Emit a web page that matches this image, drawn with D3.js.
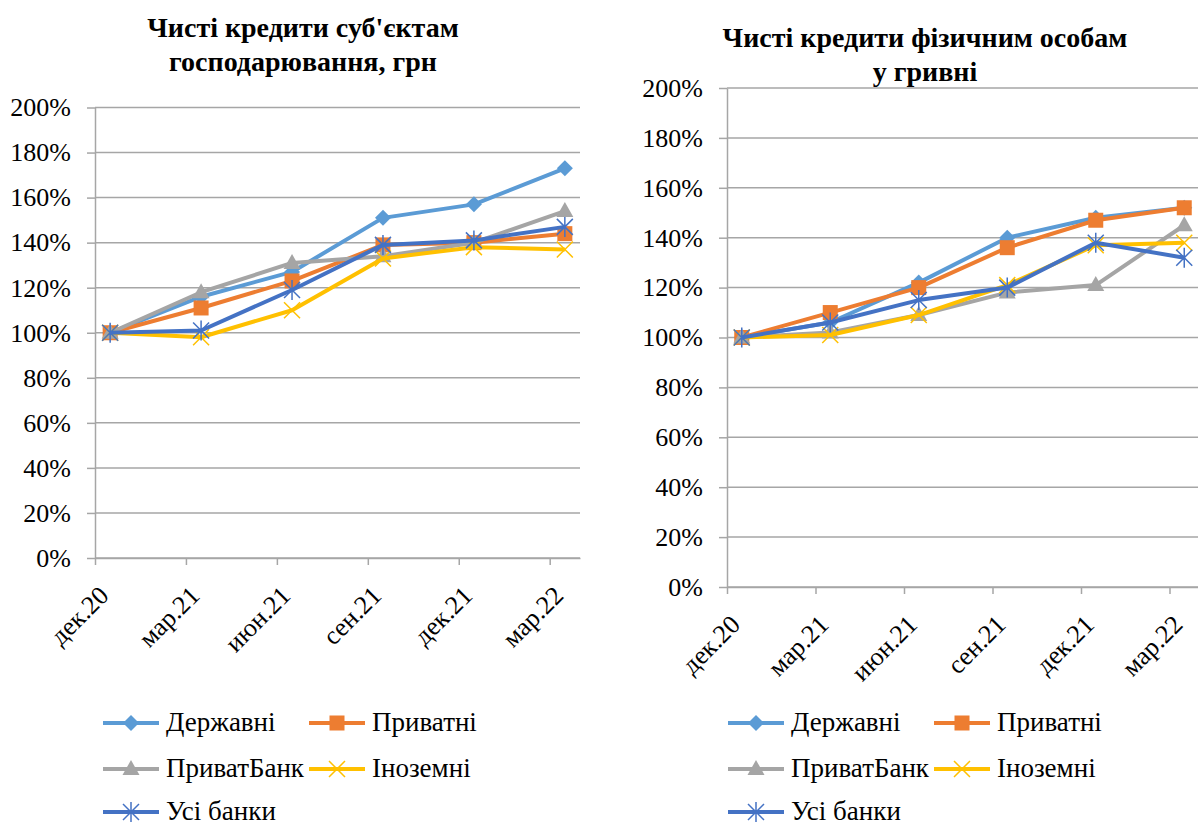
<!DOCTYPE html>
<meta charset="utf-8">
<script src="https://d3js.org/d3.v7.min.js"></script>
<body style="margin:0">
<script>

// Categories (quarter ends) and series names
const categories = ["дек.20", "мар.21", "июн.21", "сен.21", "дек.21", "мар.22"];
const seriesNames = ["Державні", "Приватні", "ПриватБанк", "Іноземні", "Усі банки"];
const yTicks = [0, 20, 40, 60, 80, 100, 120, 140, 160, 180, 200];

// Left chart: net loans to businesses, UAH (%, дек.20 = 100)
const bizDerzhavni   = [100, 116, 127, 151, 157, 173];
const bizPryvatni    = [100, 111, 123, 139, 140, 144];
const bizPrivatBank  = [100, 118, 131, 134, 140, 154];
const bizInozemni    = [100, 98, 110, 133, 138, 137];
const bizUsi         = [100, 101, 119, 139, 141, 147];

// Right chart: net loans to households, UAH
const hhDerzhavni   = [100, 106, 122, 140, 148, 152];
const hhPryvatni    = [100, 110, 120, 136, 147, 152];
const hhPrivatBank  = [100, 102, 109, 118, 121, 145];
const hhInozemni    = [100, 101, 109, 121, 137, 138];
const hhUsi         = [100, 106, 115, 120, 138, 132];

const colors = ["#5B9BD5", "#ED7D31", "#A5A5A5", "#FFC000", "#4472C4"];
const markers = ["diamond", "square", "triangle", "x", "star"];
const FONT = "'Liberation Serif', Tinos, serif";

const svg = d3.select("body")
    .append("svg")
    .attr("width", 1198)
    .attr("height", 825);

// draw one marker of given type
function drawMarker(g, type, color) {
    if (type === "diamond") {
        g.append("path").attr("d", "M0,-8L8,0L0,8L-8,0Z").attr("fill", color);
    } else if (type === "square") {
        g.append("rect").attr("x", -7.5).attr("y", -7.5).attr("width", 15).attr("height", 15).attr("fill", color);
    } else if (type === "triangle") {
        g.append("path").attr("d", "M0,-9L8.5,6L-8.5,6Z").attr("fill", color);
    } else if (type === "x") {
        g.append("path").attr("d", "M-8,-8L8,8M-8,8L8,-8")
            .attr("stroke", color).attr("stroke-width", 1.5).attr("fill", "none");
    } else {
        g.append("path").attr("d", "M-8,-8L8,8M-8,8L8,-8M0,-10L0,10")
            .attr("stroke", color).attr("stroke-width", 1.5).attr("fill", "none");
    }
}

function txt(sel, size) {
    return sel.style("font-family", FONT).style("font-size", size + "px");
}

function drawChart(cfg) {
    const g = svg.append("g");

    // monthly date axis: 16 months, ticks every quarter, points mid-month
    const x = d3.scaleLinear().domain([0, categories.length * 3 - 2]).range([cfg.x0, cfg.x1]);
    const y = d3.scaleLinear().domain([0, 200]).range([cfg.y0, cfg.y1]);
    const px = i => x(i * 3 + 0.5);

    // gridlines
    g.append("g")
        .selectAll("line")
        .data(yTicks)
        .join("line")
        .attr("x1", cfg.x0).attr("x2", cfg.x1)
        .attr("y1", d => y(d)).attr("y2", d => y(d))
        .attr("stroke", "#A6A6A6")
        .attr("stroke-width", 1.5);

    // y axis
    const yAxis = g.append("g")
        .attr("transform", `translate(${cfg.x0},0)`)
        .call(d3.axisLeft(y).tickValues(yTicks).tickFormat(d => d + "%").tickSize(8).tickSizeOuter(0).tickPadding(16));
    txt(yAxis.selectAll("text"), 26).attr("fill", "#000");

    // x axis
    g.append("g")
        .attr("transform", `translate(0,${cfg.y0})`)
        .call(d3.axisBottom(x).tickValues(categories.map((c, i) => i * 3)).tickFormat("").tickSize(7).tickSizeOuter(0));
    g.selectAll(".domain, .tick line").attr("stroke", "#A6A6A6").attr("stroke-width", 1.5);

    // rotated category labels
    txt(g.append("g")
        .selectAll("text")
        .data(categories)
        .join("text")
        .attr("transform", (d, i) => `translate(${px(i) - 6},${cfg.y0 + 33}) rotate(-45)`)
        .attr("text-anchor", "end")
        .attr("dominant-baseline", "central"), 26)
        .text(d => d);

    // series lines + markers
    const line = d3.line().x((d, i) => px(i)).y(d => y(d));
    cfg.series.forEach((vals, s) => {
        g.append("path")
            .datum(vals)
            .attr("d", line)
            .attr("fill", "none")
            .attr("stroke", colors[s])
            .attr("stroke-width", 4)
            .attr("stroke-linejoin", "round");
        vals.forEach((v, i) => {
            const m = g.append("g").attr("transform", `translate(${px(i)},${y(v)})`);
            drawMarker(m, markers[s], colors[s]);
        });
    });

    // title
    txt(g.append("g")
        .selectAll("text")
        .data(cfg.title)
        .join("text")
        .attr("x", cfg.titleX)
        .attr("y", (d, i) => cfg.titleY + i * 34)
        .attr("text-anchor", "middle"), 28)
        .style("font-weight", "bold")
        .text(d => d);

    // legend
    const rowY = [723, 769, 812];
    seriesNames.forEach((name, s) => {
        const col = s % 2, row = Math.floor(s / 2);
        const lg = g.append("g")
            .attr("transform", `translate(${cfg.legendX + col * 206},${rowY[row]})`);
        lg.append("line").attr("x1", 0).attr("x2", 56).attr("stroke", colors[s]).attr("stroke-width", 4);
        drawMarker(lg.append("g").attr("transform", "translate(28,0)"), markers[s], colors[s]);
        txt(lg.append("text")
            .attr("x", 63)
            .attr("y", 8), 27)
            .text(name);
    });
}

drawChart({
    x0: 95, x1: 580, y0: 558, y1: 107.5,
    title: ["Чисті кредити суб'єктам", "господарювання, грн"],
    titleX: 303, titleY: 37, legendX: 103,
    series: [bizDerzhavni, bizPryvatni, bizPrivatBank, bizInozemni, bizUsi]
});

drawChart({
    x0: 727, x1: 1199, y0: 587, y1: 88,
    title: ["Чисті кредити фізичним особам", "у гривні"],
    titleX: 925, titleY: 47, legendX: 728,
    series: [hhDerzhavni, hhPryvatni, hhPrivatBank, hhInozemni, hhUsi]
});

</script>
</body>
